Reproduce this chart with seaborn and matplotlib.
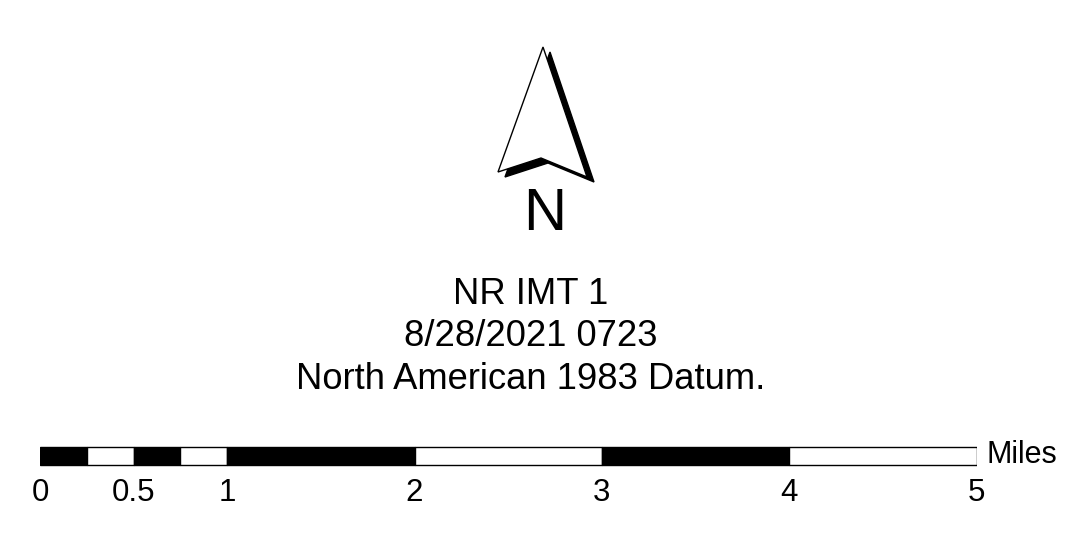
import numpy as np
import matplotlib
matplotlib.use("Agg")
import matplotlib.pyplot as plt
from matplotlib.patches import Polygon
import seaborn as sns

# -------------------------------
# data: scale bar (miles), labels, north arrow outline
# -------------------------------
seg_start = [0, 0.25, 0.5, 0.75, 1, 2, 3, 4]
seg_end = [0.25, 0.5, 0.75, 1, 2, 3, 4, 5]
seg_color = ["black", "white", "black", "white", "black", "white", "black", "white"]
tick_miles = [0, 0.5, 1, 2, 3, 4, 5]
tick_labels = ["0", "0.5", "1", "2", "3", "4", "5"]
unit_label = "Miles"
title_lines = ["NR IMT 1", "8/28/2021 0723", "North American 1983 Datum."]

# north arrow shape: tip, right base, notch, left base (pixel rows/cols)
arrow_x = [543, 587, 541, 498]
arrow_y = [47, 177, 158, 172]
shadow_dx, shadow_dy = 7, 5

sns.set_theme(style="white")
plt.rcParams["font.family"] = ["Liberation Sans", "DejaVu Sans"]

fig = plt.figure(figsize=(10.72, 5.54), dpi=100)
fig.patch.set_facecolor("white")

# page axes in pixel units
ax = fig.add_axes([0, 0, 1, 1])
ax.set_xlim(0, 1072)
ax.set_ylim(554, 0)
ax.axis("off")

pts = np.column_stack([arrow_x, arrow_y]).astype(float)
ax.add_patch(Polygon(pts + [shadow_dx, shadow_dy], closed=True, fc="black", ec="black", lw=1))
ax.add_patch(Polygon(pts, closed=True, fc="white", ec="black", lw=1))
ax.text(545, 230, "N", fontsize=43, ha="center", va="baseline", color="black")

for line, base in zip(title_lines, [304, 346.5, 389]):
    ax.text(531, base, line, fontsize=26.2, ha="center", va="baseline", color="black")

# scale bar axes: x in miles
px_left, px_right = 40, 976.5
ax2 = fig.add_axes([px_left / 1072, (554 - 510) / 554, (px_right - px_left) / 1072, 70 / 554])
ax2.set_xlim(0, 5)
ax2.set_ylim(510, 440)
ax2.axis("off")
widths = np.array(seg_end) - np.array(seg_start)
ax2.barh(456, widths, left=seg_start, height=18, color=seg_color, edgecolor="black", lw=1)

for m, lbl in zip(tick_miles, tick_labels):
    ax2.text(m, 501, lbl, fontsize=22.5, ha="center", va="baseline", color="black")
ax2.text(5 + 10 / 187.3, 463, unit_label, fontsize=22, ha="left", va="baseline", color="black")

fig.savefig("out.png", dpi=100, facecolor="white")
